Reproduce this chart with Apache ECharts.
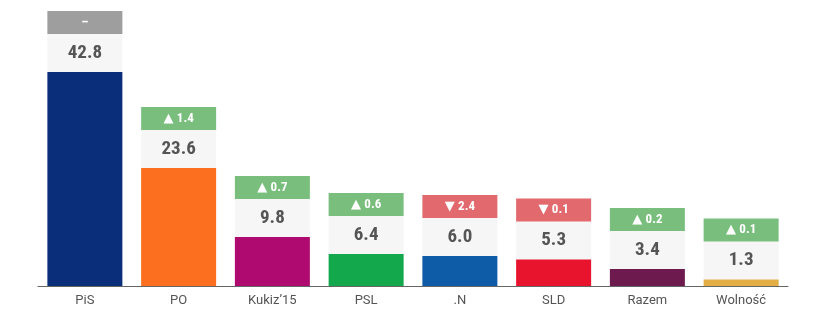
<!DOCTYPE html>
<html>
<head>
<meta charset="utf-8">
<script src="https://cdn.jsdelivr.net/npm/echarts@6/dist/echarts.min.js"></script>
<style>
  html, body { margin: 0; padding: 0; background: #fff; }
  #chart { width: 813px; height: 330px; }
</style>
</head>
<body>
<div id="chart"></div>
<script>
// partie i wyniki
const parties = ['PiS', 'PO', 'Kukiz\u201915', 'PSL', '.N', 'SLD', 'Razem', 'Wolność']
const results = [42.8, 23.6, 9.8, 6.4, 6.0, 5.3, 3.4, 1.3]
const changes = [null, 1.4, 0.7, 0.6, -2.4, -0.1, 0.2, 0.1]
const partyColors = ['#0b2e7a', '#fb6f1f', '#ae0a6f', '#12a84b', '#0e5ba7', '#e8132c', '#6d1b4e', '#e3af45']

const FONT = 'Roboto, "DejaVu Sans", sans-serif'
const NARROW = '"Roboto Condensed", "Liberation Sans Narrow", Roboto, sans-serif'
const VALUE_H = 38
const CHANGE_H = 23

const chart = echarts.init(document.getElementById('chart'))

chart.setOption({
  animation: false,
  grid: { left: 38, right: 25, top: 0, bottom: 44 },
  xAxis: {
    type: 'category',
    data: parties,
    axisTick: { show: false },
    axisLine: { lineStyle: { color: '#666', width: 1 } },
    axisLabel: { color: '#555', fontSize: 13, fontFamily: FONT, margin: 8 }
  },
  yAxis: { type: 'value', min: 0, max: 57.2, show: false, splitLine: { show: false } },
  series: [
    {
      type: 'bar',
      barWidth: '80%',
      data: results.map((v, i) => ({ value: v, itemStyle: { color: partyColors[i] } }))
    },
    {
      // pola z wynikiem i zmianą nad słupkami
      type: 'custom',
      data: results.map((v, i) => [i, v]),
      renderItem: (params, api) => {
        const i = params.dataIndex
        const top = api.coord([api.value(0), api.value(1)])
        const w = api.size([1, 0])[0] * 0.8
        const x = top[0] - w / 2
        const y = top[1]
        const ch = changes[i]
        let boxColor = '#9e9e9e'
        let label = '{n|–}'
        if (ch !== null) {
          boxColor = ch >= 0 ? '#79be7d' : '#e26a6e'
          label = '{t|' + (ch >= 0 ? '▲' : '▼') + '} {n|' + Math.abs(ch).toFixed(1) + '}'
        }
        return {
          type: 'group',
          children: [
            { type: 'rect', shape: { x: x, y: y - VALUE_H, width: w, height: VALUE_H }, style: { fill: '#f6f6f6' } },
            {
              type: 'text',
              style: {
                text: results[i].toFixed(1), x: top[0], y: y - VALUE_H / 2,
                align: 'center', verticalAlign: 'middle',
                fontSize: 19, fontWeight: 'bold', fontFamily: NARROW, fill: '#555'
              }
            },
            { type: 'rect', shape: { x: x, y: y - VALUE_H - CHANGE_H, width: w, height: CHANGE_H }, style: { fill: boxColor } },
            {
              type: 'text',
              style: {
                text: label, x: top[0], y: y - VALUE_H - CHANGE_H / 2,
                align: 'center', verticalAlign: 'middle',
                fill: '#fff',
                rich: {
                  t: { fontSize: 13, fontFamily: '"DejaVu Sans", sans-serif', fill: '#fff' },
                  n: { fontSize: 13, fontWeight: 'bold', fontFamily: NARROW, fill: '#fff' }
                }
              }
            }
          ]
        }
      }
    }
  ]
})
</script>
</body>
</html>
